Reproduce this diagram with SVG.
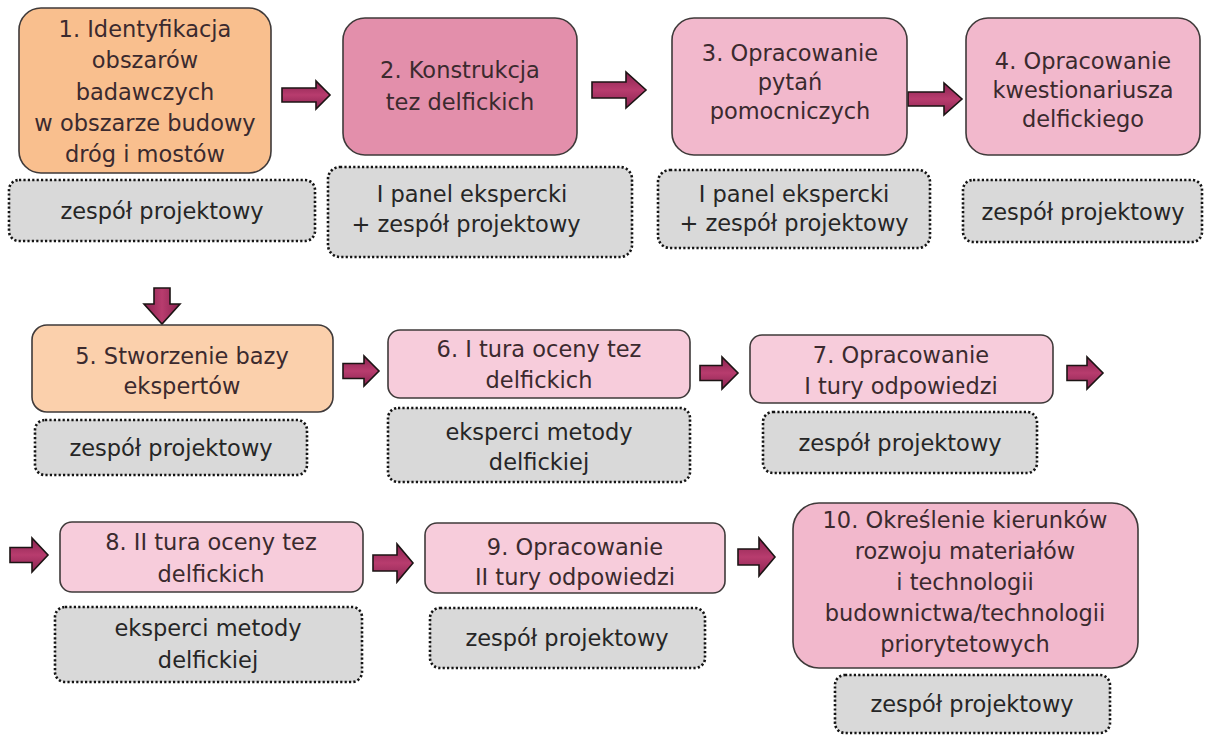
<svg xmlns="http://www.w3.org/2000/svg" width="1207" height="735" viewBox="0 0 1207 735">
<defs>
<linearGradient id="gH" x1="0" y1="0" x2="0" y2="1">
<stop offset="0" stop-color="#8a2350"/><stop offset="0.5" stop-color="#b83c6e"/><stop offset="1" stop-color="#8a2350"/>
</linearGradient>
<linearGradient id="gV" x1="0" y1="0" x2="1" y2="0">
<stop offset="0" stop-color="#8a2350"/><stop offset="0.5" stop-color="#b83c6e"/><stop offset="1" stop-color="#8a2350"/>
</linearGradient>
<style>
.box{stroke:#3f3a3a;stroke-width:1.6}
.orange{fill:#f9bf8e}
.orange2{fill:#fbd0ac}
.pink-d{fill:#e38fab}
.pink-m{fill:#f2b8cc}
.pink-l{fill:#f7ccdb}
.note{fill:#d9d9d9;stroke:#141414;stroke-width:2.6;stroke-dasharray:2.2 2.2}
text{font-family:"DejaVu Sans","Liberation Sans",sans-serif;font-size:22.5px;text-anchor:middle}
.t{fill:#3b2a2e}
.n{fill:#262626}
.arrow{stroke:#1c1414;stroke-width:1.6;fill:url(#gH)}
.arrowv{stroke:#1c1414;stroke-width:1.6;fill:url(#gV)}
</style>
</defs>
<rect width="1207" height="735" fill="#ffffff"/>

<g id="connectors">
<path class="arrow" d="M282,88 H316 V81 L330,95 L316,109 V102 H282 Z"/>
<path class="arrow" d="M592,82 H626 V72 L646,90 L626,108 V98 H592 Z"/>
<path class="arrow" d="M908,92 H944 V83 L962,99 L944,115 V106 H908 Z"/>
<path class="arrowv" d="M154,288 V304 H144 L162,324 L180,304 H170 V288 Z"/>
<path class="arrow" d="M343,363.5 H364 V356 L379,371 L364,386 V378.5 H343 Z"/>
<path class="arrow" d="M700,365.5 H722 V357 L738,373 L722,389 V380.5 H700 Z"/>
<path class="arrow" d="M1067,365.5 H1087 V357 L1103,373 L1087,389 V380.5 H1067 Z"/>
<path class="arrow" d="M10,547.5 H32 V538 L48,555 L32,572 V562.5 H10 Z"/>
<path class="arrow" d="M373,555 H397 V544 L413,563 L397,582 V571 H373 Z"/>
<path class="arrow" d="M738,549 H759 V538 L775,557 L759,576 V565 H738 Z"/>
</g>

<g id="node1">
<rect class="box orange" x="19" y="8" width="252" height="165" rx="22"/>
<text class="t" x="145" y="37">1. Identyfikacja</text>
<text class="t" x="145" y="68">obszarów</text>
<text class="t" x="145" y="100">badawczych</text>
<text class="t" x="145" y="131">w obszarze budowy</text>
<text class="t" x="145" y="162">dróg i mostów</text>
</g>
<g id="note1">
<rect class="note" x="9" y="180" width="306" height="61" rx="10"/>
<text class="n" x="162" y="219">zespół projektowy</text>
</g>

<g id="node2">
<rect class="box pink-d" x="343" y="18" width="234" height="137" rx="22"/>
<text class="t" x="460" y="78">2. Konstrukcja</text>
<text class="t" x="460" y="110">tez delfickich</text>
</g>
<g id="note2">
<rect class="note" x="328" y="167" width="304" height="90" rx="12"/>
<text class="n" x="472" y="202">I panel ekspercki</text>
<text class="n" x="466" y="232">+ zespół projektowy</text>
</g>

<g id="node3">
<rect class="box pink-m" x="672" y="18" width="235" height="137" rx="22"/>
<text class="t" x="790" y="61">3. Opracowanie</text>
<text class="t" x="790" y="90">pytań</text>
<text class="t" x="790" y="119">pomocniczych</text>
</g>
<g id="note3">
<rect class="note" x="658" y="170" width="272" height="78" rx="12"/>
<text class="n" x="794" y="202">I panel ekspercki</text>
<text class="n" x="794" y="231">+ zespół projektowy</text>
</g>

<g id="node4">
<rect class="box pink-m" x="966" y="18" width="234" height="137" rx="22"/>
<text class="t" x="1083" y="69">4. Opracowanie</text>
<text class="t" x="1083" y="98">kwestionariusza</text>
<text class="t" x="1083" y="127">delfickiego</text>
</g>
<g id="note4">
<rect class="note" x="963" y="180" width="239" height="62" rx="10"/>
<text class="n" x="1083" y="220">zespół projektowy</text>
</g>

<g id="node5">
<rect class="box orange2" x="32" y="325" width="301" height="87" rx="15"/>
<text class="t" x="182" y="364">5. Stworzenie bazy</text>
<text class="t" x="182" y="394">ekspertów</text>
</g>
<g id="note5">
<rect class="note" x="35" y="420" width="272" height="55" rx="10"/>
<text class="n" x="171" y="456">zespół projektowy</text>
</g>

<g id="node6">
<rect class="box pink-l" x="388" y="330" width="302" height="68" rx="12"/>
<text class="t" x="539" y="357">6. I tura oceny tez</text>
<text class="t" x="539" y="388">delfickich</text>
</g>
<g id="note6">
<rect class="note" x="388" y="408" width="302" height="74" rx="10"/>
<text class="n" x="539" y="440">eksperci metody</text>
<text class="n" x="539" y="470">delfickiej</text>
</g>

<g id="node7">
<rect class="box pink-l" x="750" y="335" width="303" height="68" rx="12"/>
<text class="t" x="901" y="363">7. Opracowanie</text>
<text class="t" x="901" y="394">I tury odpowiedzi</text>
</g>
<g id="note7">
<rect class="note" x="763" y="412" width="274" height="61" rx="10"/>
<text class="n" x="900" y="451">zespół projektowy</text>
</g>

<g id="node8">
<rect class="box pink-l" x="60" y="522" width="303" height="70" rx="12"/>
<text class="t" x="211" y="550">8. II tura oceny tez</text>
<text class="t" x="211" y="582">delfickich</text>
</g>
<g id="note8">
<rect class="note" x="55" y="607" width="307" height="75" rx="10"/>
<text class="n" x="208" y="636">eksperci metody</text>
<text class="n" x="208" y="668">delfickiej</text>
</g>

<g id="node9">
<rect class="box pink-l" x="425" y="523" width="300" height="70" rx="12"/>
<text class="t" x="575" y="555">9. Opracowanie</text>
<text class="t" x="575" y="585">II tury odpowiedzi</text>
</g>
<g id="note9">
<rect class="note" x="430" y="608" width="275" height="60" rx="10"/>
<text class="n" x="567" y="646">zespół projektowy</text>
</g>

<g id="node10">
<rect class="box pink-m" x="793" y="503" width="345" height="165" rx="26"/>
<text class="t" x="965" y="528">10. Określenie kierunków</text>
<text class="t" x="965" y="559">rozwoju materiałów</text>
<text class="t" x="965" y="590">i technologii</text>
<text class="t" x="965" y="621">budownictwa/technologii</text>
<text class="t" x="965" y="652">priorytetowych</text>
</g>
<g id="note10">
<rect class="note" x="835" y="675" width="275" height="58" rx="10"/>
<text class="n" x="972" y="712">zespół projektowy</text>
</g>
</svg>
